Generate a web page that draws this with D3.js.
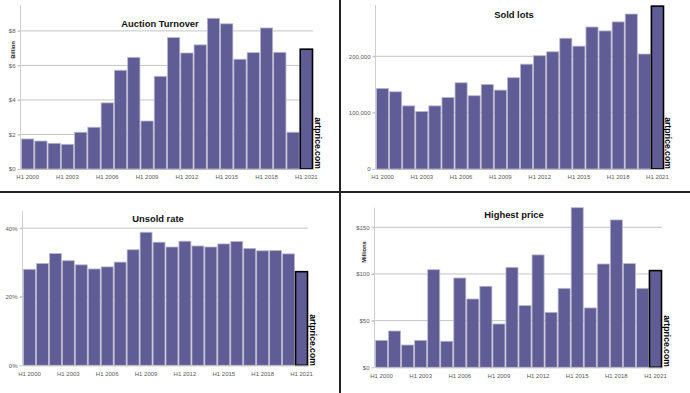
<!DOCTYPE html>
<html>
<head>
<meta charset="utf-8">
<script src="https://cdn.jsdelivr.net/npm/d3@7"></script>
<style>
  body { margin: 0; background: #fff; }
  svg { display: block; font-family: "Liberation Sans", Arial, sans-serif; }
</style>
</head>
<body>
<svg id="chart" width="690" height="393"></svg>
<script>
const years = d3.range(2000, 2022);
const yearTicks = [2000, 2003, 2006, 2009, 2012, 2015, 2018, 2021];

// Auction turnover, $ billion
const turnover = [1.74, 1.62, 1.49, 1.43, 2.13, 2.42, 3.83, 5.72, 6.47, 2.78, 5.37,
  7.61, 6.72, 7.19, 8.73, 8.41, 6.36, 6.74, 8.17, 6.76, 2.13, 6.94];
// Sold lots
const soldLots = [143000, 137000, 112000, 102000, 112000, 127000, 153000, 130000, 150000, 140000, 162000,
  186000, 201000, 208000, 232000, 218000, 252000, 245000, 261000, 275000, 204000, 289000];
// Unsold rate, %
const unsoldRate = [28.0, 29.7, 32.6, 30.5, 29.3, 28.1, 28.7, 30.1, 33.7, 38.8, 35.9,
  34.5, 36.2, 34.8, 34.5, 35.4, 36.1, 34.1, 33.4, 33.5, 32.5, 27.3];
// Highest price, $ million
const highestPrice = [28.9, 38.9, 23.9, 28.9, 104.6, 27.9, 95.7, 73.2, 86.8, 46.4, 107.1,
  66.1, 120.4, 58.9, 84.6, 171, 63.6, 110.7, 157.9, 111.1, 84.6, 103.6];

const turnoverTicks = [0, 2, 4, 6, 8];
const soldTicks = [0, 100000, 200000];
const unsoldTicks = [0, 20, 40];
const priceTicks = [0, 50, 100, 150];

const svg = d3.select('#chart');
const barColor = '#605c96';

const panels = [
  { values: turnover, title: 'Auction Turnover', titleX: 160, titleY: 27, unit: 'Billion', unitX: 15, unitY: 50,
    x0: 21, x1: 313, yBase: 169, yTop: 5, max: 9.5, ticks: turnoverTicks, fmt: d => '$' + d, labelY: 178,
    brandX: 318.5, brandY: 143 },
  { values: soldLots, title: 'Sold lots', titleX: 514, titleY: 18, unit: null,
    x0: 376, x1: 664, yBase: 169, yTop: 5, max: 291000, ticks: soldTicks, fmt: d3.format(','), labelY: 178,
    brandX: 668.5, brandY: 143 },
  { values: unsoldRate, title: 'Unsold rate', titleX: 158, titleY: 222, unit: null,
    x0: 23, x1: 308, yBase: 365.3, yTop: 211, max: 45, ticks: unsoldTicks, fmt: d => d + '%', labelY: 374,
    brandX: 313.5, brandY: 340 },
  { values: highestPrice, title: 'Highest price', titleX: 514, titleY: 218, unit: 'Millions', unitX: 366, unitY: 252,
    x0: 375, x1: 662, yBase: 367.3, yTop: 207.7, max: 171, ticks: priceTicks, fmt: d => '$' + d, labelY: 376.5,
    brandX: 667.5, brandY: 341 }
];

panels.forEach(p => {
  const x = d3.scaleBand().domain(years).range([p.x0, p.x1]).padding(0);
  const y = d3.scaleLinear().domain([0, p.max]).range([p.yBase, p.yTop]);
  const g = svg.append('g');

  // gridlines
  g.append('g')
    .selectAll('line')
    .data(p.ticks.filter(t => t > 0))
    .join('line')
    .attr('x1', p.x0 - 3)
    .attr('x2', p.x1)
    .attr('y1', d => y(d))
    .attr('y2', d => y(d))
    .attr('stroke', '#c4c4c4')
    .attr('stroke-width', 1);

  // y axis
  const yAxis = g.append('g')
    .attr('transform', 'translate(' + (p.x0 - 0.5) + ',0)')
    .call(d3.axisLeft(y).tickValues(p.ticks).tickFormat(p.fmt).tickSize(3).tickPadding(2));
  yAxis.select('.domain').attr('stroke', '#cfcfcf').attr('d', 'M0,' + p.yBase + 'V' + p.yTop);
  yAxis.selectAll('.tick line').attr('stroke', '#c4c4c4');
  yAxis.selectAll('text').attr('font-size', 6).attr('fill', '#5a5a5a');

  // bars
  g.append('g')
    .selectAll('rect')
    .data(p.values)
    .join('rect')
    .attr('x', (d, i) => x(years[i]) + 0.5)
    .attr('y', d => y(d))
    .attr('width', x.bandwidth() - 1)
    .attr('height', d => y(0) - y(d))
    .attr('fill', barColor)
    .attr('stroke', (d, i) => i === years.length - 1 ? '#000' : '#b9b8cc')
    .attr('stroke-width', (d, i) => i === years.length - 1 ? 1.6 : 0.8);

  // x axis
  const xAxis = g.append('g')
    .attr('transform', 'translate(0,' + p.yBase + ')')
    .call(d3.axisBottom(x).tickValues(yearTicks).tickFormat(d => 'H1 ' + d).tickSize(0).tickPadding(6));
  xAxis.select('.domain').attr('stroke', '#bdbdbd');
  xAxis.selectAll('text').attr('font-size', 6).attr('fill', '#5a5a5a');

  // title
  g.append('text')
    .attr('x', p.titleX)
    .attr('y', p.titleY)
    .attr('text-anchor', 'middle')
    .attr('font-size', 9.4)
    .attr('font-weight', 'bold')
    .attr('fill', '#111')
    .text(p.title);

  if (p.unit) {
    g.append('text')
      .attr('transform', 'translate(' + p.unitX + ',' + p.unitY + ') rotate(-90)')
      .attr('text-anchor', 'middle')
      .attr('font-size', 5.8)
      .attr('font-weight', 'bold')
      .attr('fill', '#222')
      .text(p.unit);
  }

  // watermark
  g.append('text')
    .attr('transform', 'translate(' + p.brandX + ',' + p.brandY + ') rotate(90)')
    .attr('text-anchor', 'middle')
    .attr('dy', '0.35em')
    .attr('font-size', 8.6)
    .attr('font-weight', 'bold')
    .attr('fill', '#000')
    .text('artprice.com');
});

// panel separators
svg.append('line').attr('x1', 0).attr('x2', 690).attr('y1', 192).attr('y2', 192)
  .attr('stroke', '#222').attr('stroke-width', 2);
svg.append('line').attr('x1', 340).attr('x2', 340).attr('y1', 0).attr('y2', 393)
  .attr('stroke', '#222').attr('stroke-width', 2);
</script>
</body>
</html>
